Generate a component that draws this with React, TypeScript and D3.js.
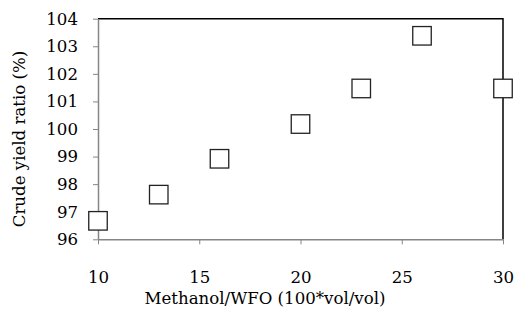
import React, { useEffect, useRef } from 'react';
import * as d3 from 'd3';

// Methanol/WFO ratio (100*vol/vol) and crude yield ratio (%)
const methanol = [10, 13, 16, 20, 23, 26, 30];
const yieldRatio = [96.67, 97.62, 98.92, 100.18, 101.47, 103.38, 101.47];
const xTicks = [10, 15, 20, 25, 30];
const yTicks = [96, 97, 98, 99, 100, 101, 102, 103, 104];

const App = () => {
  const ref = useRef<SVGSVGElement>(null);

  useEffect(() => {
    const svg = d3.select(ref.current);
    svg.selectAll('*').remove();

    const left = 98, right = 503, top = 18.7, bottom = 239.3;
    const font = '"DejaVu Serif", "Liberation Serif", serif';
    const fs = 16.6;

    const x = d3.scaleLinear().domain([10, 30]).range([left, right]);
    const y = d3.scaleLinear().domain([96, 104]).range([bottom, top]);

    // top and right border (black)
    svg.append('path')
      .attr('d', `M${left},${top}H${right}V${bottom}`)
      .attr('fill', 'none')
      .attr('stroke', '#000')
      .attr('stroke-width', 1.5);

    // y axis
    const yAxis = svg.append('g')
      .attr('transform', `translate(${left},0)`)
      .call(d3.axisLeft(y).tickValues(yTicks).tickSize(5).tickSizeOuter(0).tickPadding(15));
    yAxis.select('.domain').attr('stroke', '#868686').attr('stroke-width', 1.5);
    yAxis.selectAll('.tick line').attr('stroke', '#868686');
    yAxis.selectAll('text')
      .attr('font-family', font)
      .attr('font-size', fs)
      .attr('fill', '#000');

    // x axis
    const xAxis = svg.append('g')
      .attr('transform', `translate(0,${bottom})`)
      .call(d3.axisBottom(x).tickValues(xTicks).tickSize(5).tickSizeOuter(0).tickPadding(26.5));
    xAxis.select('.domain').attr('stroke', '#868686').attr('stroke-width', 1.5);
    xAxis.selectAll('.tick line').attr('stroke', '#868686');
    xAxis.selectAll('text')
      .attr('font-family', font)
      .attr('font-size', fs)
      .attr('fill', '#000');

    // markers
    const size = 18.5;
    svg.append('g')
      .selectAll('rect')
      .data(methanol.map((m, i) => ({ m, v: yieldRatio[i] })))
      .enter()
      .append('rect')
      .attr('x', d => x(d.m) - size / 2)
      .attr('y', d => y(d.v) - size / 2)
      .attr('width', size)
      .attr('height', size)
      .attr('fill', '#fff')
      .attr('stroke', '#222')
      .attr('stroke-width', 1.3);

    // axis titles
    svg.append('text')
      .attr('x', 265)
      .attr('y', 304)
      .attr('text-anchor', 'middle')
      .attr('font-family', font)
      .attr('font-size', fs)
      .text('Methanol/WFO (100*vol/vol)');

    svg.append('text')
      .attr('transform', `translate(25,139) rotate(-90)`)
      .attr('text-anchor', 'middle')
      .attr('font-family', font)
      .attr('font-size', fs)
      .text('Crude yield ratio (%)');
  }, []);

  return (
    <svg
      ref={ref}
      width={517}
      height={320}
      style={{ position: 'absolute', left: 0, top: 0, background: '#fff' }}
    />
  );
};

export default App;
